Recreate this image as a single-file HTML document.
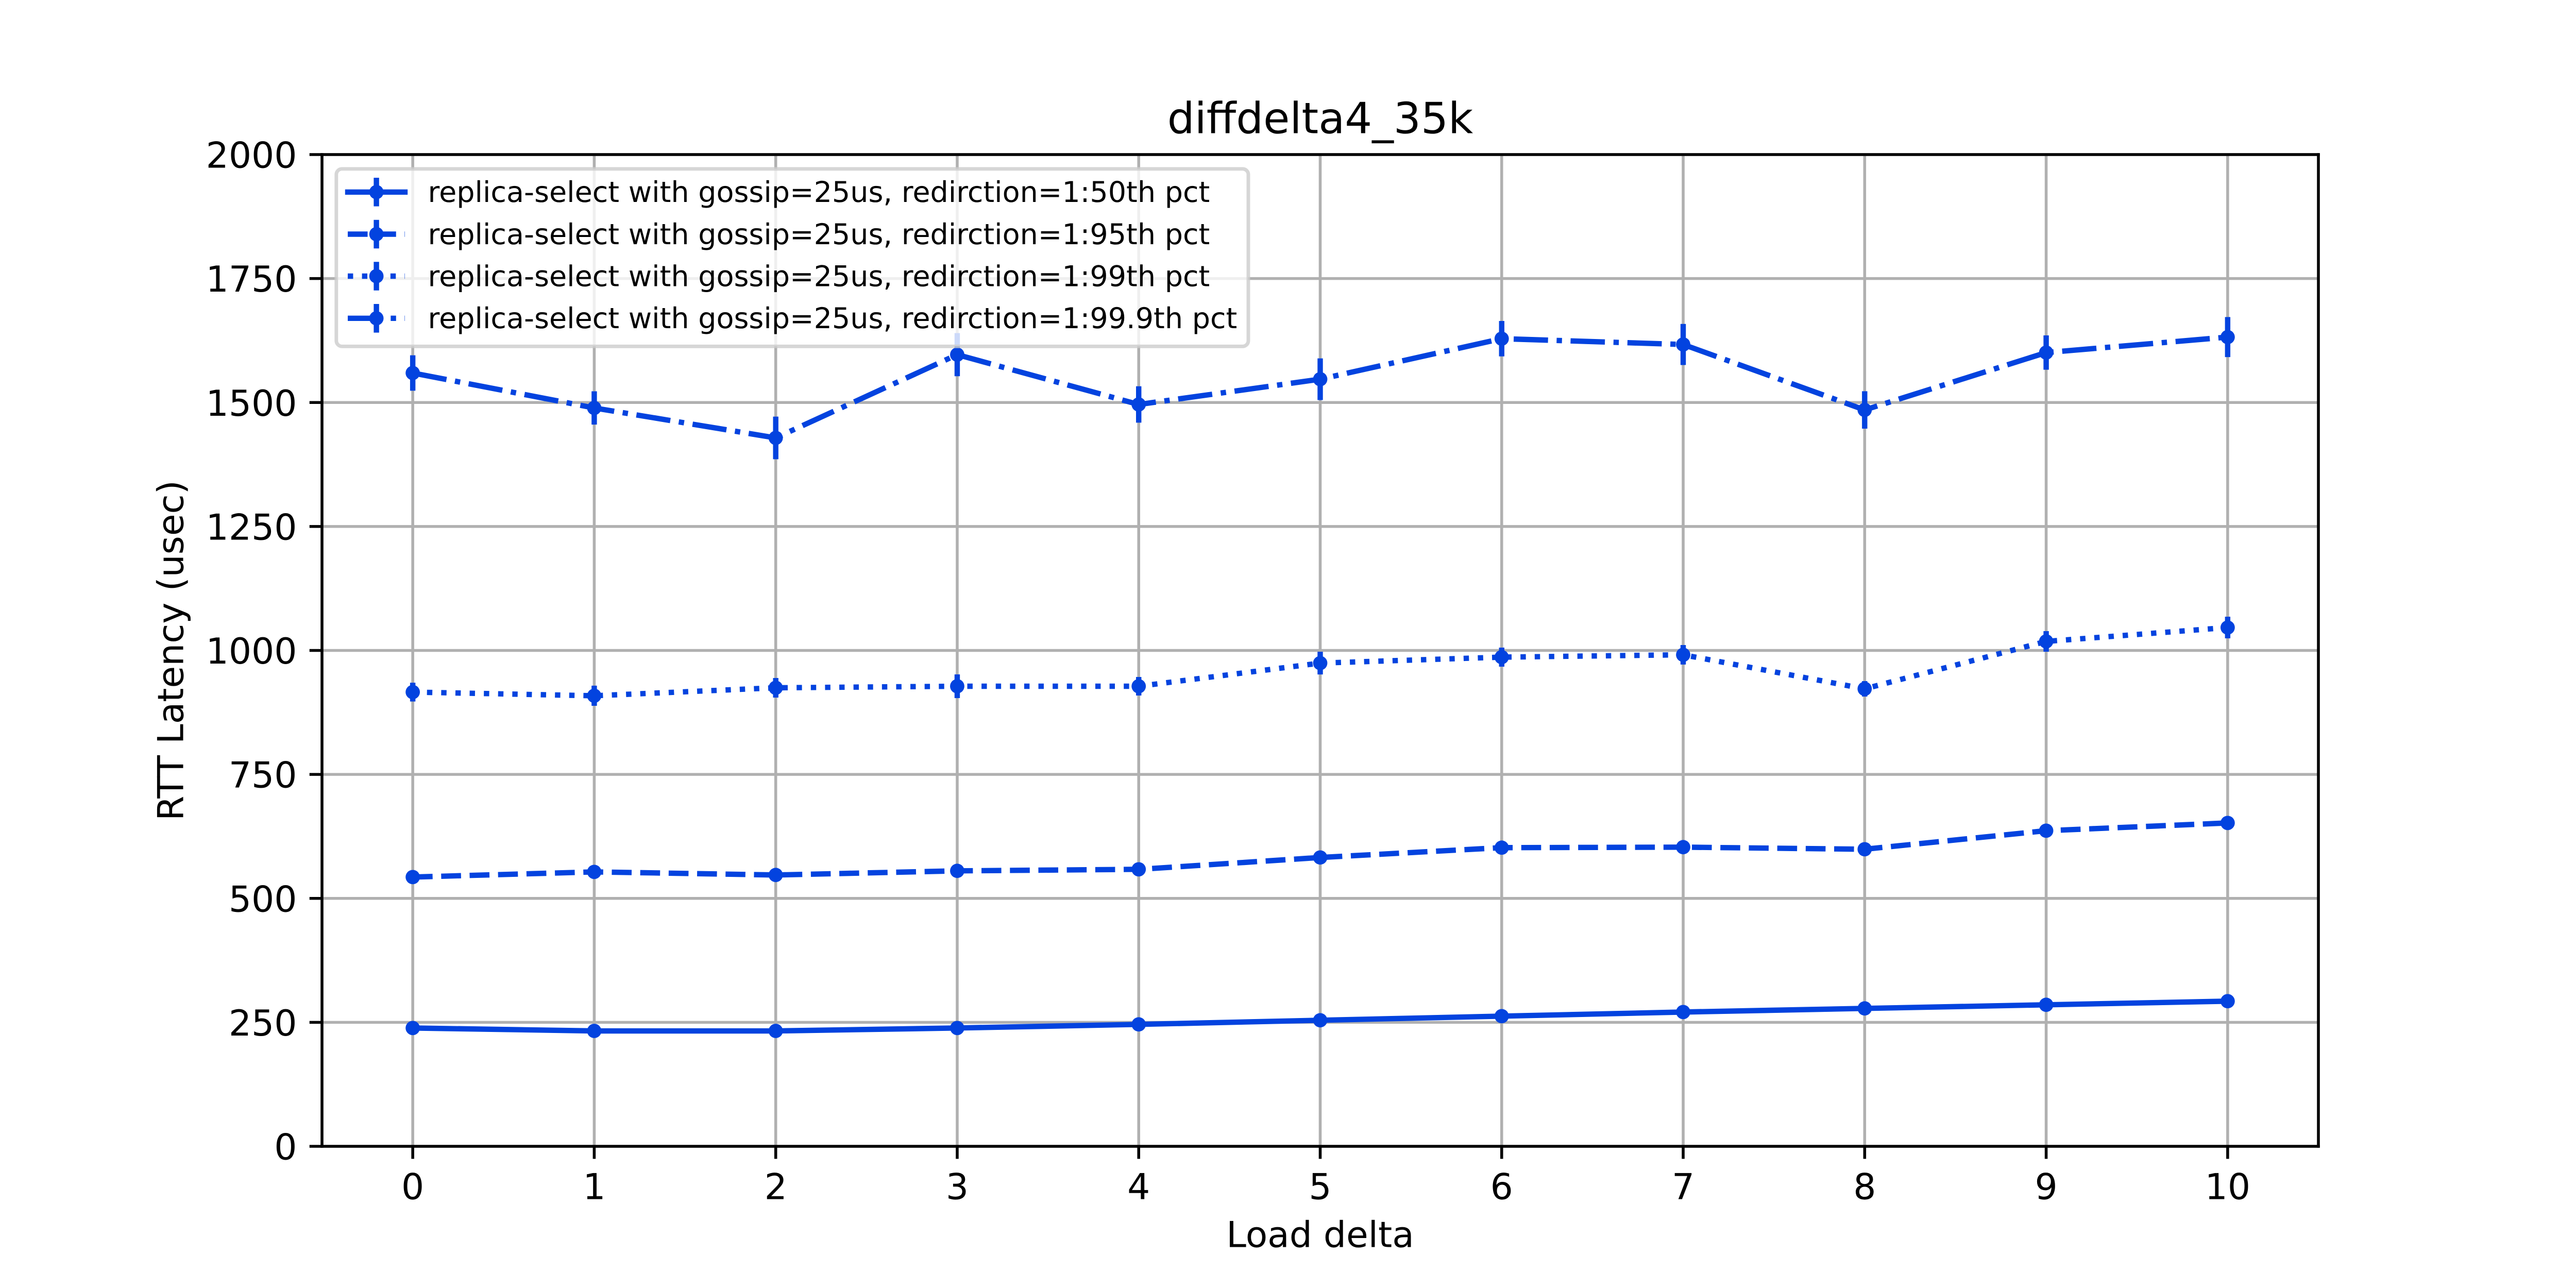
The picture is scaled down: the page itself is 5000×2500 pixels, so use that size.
<!DOCTYPE html>
<html lang="en">
<head>
<meta charset="utf-8">
<title>diffdelta4_35k</title>
<style>
  html, body { margin: 0; padding: 0; background: #fff; }
  svg { display: block; }
  text { font-family: "DejaVu Sans", "Liberation Sans", sans-serif; fill: #000; text-rendering: geometricPrecision; }
</style>
</head>
<body>
<svg id="chart" xmlns="http://www.w3.org/2000/svg" width="5000" height="2500" viewBox="0 0 5000 2500">
  <rect x="0" y="0" width="5000" height="2500" fill="#ffffff"/>
  <rect x="625" y="300" width="3875" height="1925" fill="#ffffff"/>
  <g id="grid"></g>
  <g id="series"></g>
  <g id="axes"></g>
  <text x="2562.5" y="258.3" font-size="83.33" text-anchor="middle">diffdelta4_35k</text>
  <text x="2562.5" y="2420.7" font-size="69.44" text-anchor="middle">Load delta</text>
  <text transform="translate(355.5 1262.5) rotate(-90)" font-size="69.44" text-anchor="middle">RTT Latency (usec)</text>

  <g>
    <rect x="652.8" y="327.8" width="1770.2" height="344.5" rx="11" ry="11" fill="#ffffff" fill-opacity="0.8" stroke="#cccccc" stroke-opacity="0.8" stroke-width="6.94"/>
    <g stroke="#0343df" fill="none">
      <line x1="675" x2="786" y1="372.8" y2="372.8" stroke-width="10.42" stroke-linecap="square"/>
      <line x1="730.6" x2="730.6" y1="345" y2="400.5" stroke-width="10.42"/>
      <circle cx="730.6" cy="372.8" r="13.9" fill="#0343df" stroke="none"/>
      <text x="830.5" y="392" font-size="55.56" stroke="none">replica-select with gossip=25us, redirction=1:50th pct</text>
    </g>
    <g stroke="#0343df" fill="none">
      <line x1="675" x2="786" y1="454.5" y2="454.5" stroke-width="10.42" stroke-dasharray="38.54 16.67"/>
      <line x1="730.6" x2="730.6" y1="426.8" y2="482.3" stroke-width="10.42"/>
      <circle cx="730.6" cy="454.5" r="13.9" fill="#0343df" stroke="none"/>
      <text x="830.5" y="473.8" font-size="55.56" stroke="none">replica-select with gossip=25us, redirction=1:95th pct</text>
    </g>
    <g stroke="#0343df" fill="none">
      <line x1="675" x2="786" y1="536" y2="536" stroke-width="10.42" stroke-dasharray="10.42 17.19"/>
      <line x1="730.6" x2="730.6" y1="508.2" y2="563.8" stroke-width="10.42"/>
      <circle cx="730.6" cy="536" r="13.9" fill="#0343df" stroke="none"/>
      <text x="830.5" y="555.3" font-size="55.56" stroke="none">replica-select with gossip=25us, redirction=1:99th pct</text>
    </g>
    <g stroke="#0343df" fill="none">
      <line x1="675" x2="786" y1="617.8" y2="617.8" stroke-width="10.42" stroke-dasharray="66.67 16.67 10.42 16.67"/>
      <line x1="730.6" x2="730.6" y1="590" y2="645.6" stroke-width="10.42"/>
      <circle cx="730.6" cy="617.8" r="13.9" fill="#0343df" stroke="none"/>
      <text x="830.5" y="636.9" font-size="55.56" stroke="none">replica-select with gossip=25us, redirction=1:99.9th pct</text>
    </g>
  </g>
</svg>

<script>
const categories = [0, 1, 2, 3, 4, 5, 6, 7, 8, 9, 10];
const yTickValues = [0, 250, 500, 750, 1000, 1250, 1500, 1750, 2000];

const p50 = [238.6, 232.7, 232.7, 238.6, 245.9, 254.2, 262.5, 270.8, 278.1, 285.4, 292.7];
const p50Err = [3, 3, 3, 3, 3, 3, 3, 3, 3, 3, 3];

const p95 = [543, 553.4, 547.2, 555.5, 558.6, 582.5, 602.3, 603.3, 599.1, 636.5, 652.1];
const p95Err = [6, 6, 6, 6, 6, 6, 6, 6, 6, 6, 6];

const p99 = [916, 908.6, 924.7, 927.8, 927.8, 974.5, 986.5, 991.2, 922.6, 1018.2, 1046.2];
const p99Err = [19, 20.3, 19.7, 23.9, 18.7, 22.9, 19.2, 19.7, 15.6, 20.8, 21.8];

const p999 = [1559.5, 1489, 1428.6, 1596.5, 1496, 1547, 1628.7, 1617, 1485, 1600.7, 1631.9];
const p999Err = [35.7, 33.6, 43, 43.5, 36.7, 42, 35.7, 41.4, 37.7, 34.6, 40.4];

const NS = 'http://www.w3.org/2000/svg';
const BLUE = '#0343df';
const plot = { left: 625, right: 4500, top: 300, bottom: 2225 };
const xDomain = [-0.5, 10.5];
const yDomain = [0, 2000];

function xScale(v) {
  return plot.left + (v - xDomain[0]) / (xDomain[1] - xDomain[0]) * (plot.right - plot.left);
}
function yScale(v) {
  return plot.bottom - (v - yDomain[0]) / (yDomain[1] - yDomain[0]) * (plot.bottom - plot.top);
}
function make(tag, attrs, parent) {
  const el = document.createElementNS(NS, tag);
  for (const k in attrs) el.setAttribute(k, attrs[k]);
  parent.appendChild(el);
  return el;
}

const gridG = document.getElementById('grid');
const axesG = document.getElementById('axes');
const seriesG = document.getElementById('series');

categories.forEach(function (c) {
  const gl = make('line', { x1: xScale(c), x2: xScale(c), y1: plot.top, y2: plot.bottom, stroke: '#b0b0b0', 'stroke-width': 5.56 }, gridG);
  
  
  const tick = make('line', { x1: xScale(c), x2: xScale(c), y1: plot.bottom, y2: plot.bottom + 24.3, stroke: '#000', 'stroke-width': 5.56 }, axesG);
  
  
  const label = make('text', { x: xScale(c), y: 2327.4, 'font-size': 69.44, 'text-anchor': 'middle' }, axesG);
  
  
  label.textContent = String(c);
});

yTickValues.forEach(function (v) {
  const gl = make('line', { x1: plot.left, x2: plot.right, y1: yScale(v), y2: yScale(v), stroke: '#b0b0b0', 'stroke-width': 5.56 }, gridG);
  
  
  const tick = make('line', { x1: plot.left - 24.3, x2: plot.left, y1: yScale(v), y2: yScale(v), stroke: '#000', 'stroke-width': 5.56 }, axesG);
  
  
  const label = make('text', { x: 576.4, y: yScale(v) + 25.5, 'font-size': 69.44, 'text-anchor': 'end' }, axesG);
  
  
  label.textContent = String(v);
});

[
  [plot.left, plot.top, plot.left, plot.bottom],
  [plot.right, plot.top, plot.right, plot.bottom],
  [plot.left, plot.top, plot.right, plot.top],
  [plot.left, plot.bottom, plot.right, plot.bottom]
].forEach(function (s) {
  const spine = make('line', { x1: s[0], y1: s[1], x2: s[2], y2: s[3], stroke: '#000', 'stroke-width': 5.56, 'stroke-linecap': 'square' }, axesG);
  
  
});

function drawSeries(name, values, errors, dash, cap) {
  const g = make('g', {}, seriesG);
  
  
  values.forEach(function (v, i) {
    const bar = make('line', {
      x1: xScale(categories[i]), x2: xScale(categories[i]),
      y1: yScale(v - errors[i]), y2: yScale(v + errors[i]),
      stroke: BLUE, 'stroke-width': 10.42
    }, g);
    
    
  });
  const pts = values.map(function (v, i) { return xScale(categories[i]) + ',' + yScale(v); }).join(' ');
  const attrs = { points: pts, fill: 'none', stroke: BLUE, 'stroke-width': 10.42, 'stroke-linejoin': 'round', 'stroke-linecap': cap };
  if (dash) attrs['stroke-dasharray'] = dash;
  const line = make('polyline', attrs, g);
  
  
  values.forEach(function (v, i) {
    const pt = make('circle', { cx: xScale(categories[i]), cy: yScale(v), r: 13.9, fill: BLUE }, g);
    
    
  });
}

drawSeries('series-50th-pct', p50, p50Err, null, 'square');
drawSeries('series-95th-pct', p95, p95Err, '38.54 16.67', 'butt');
drawSeries('series-99th-pct', p99, p99Err, '10.42 17.19', 'butt');
drawSeries('series-99-9th-pct', p999, p999Err, '66.67 16.67 10.42 16.67', 'butt');
</script>
</body>
</html>
